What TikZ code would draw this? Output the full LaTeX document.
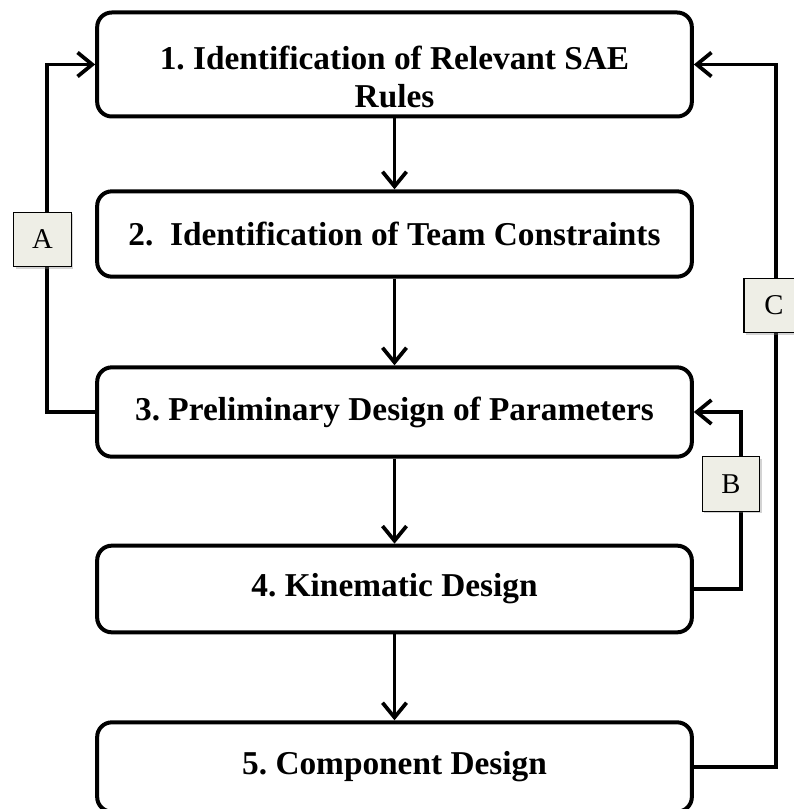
\documentclass[tikz,border=0pt]{standalone}
\usepackage{fontspec}
\setmainfont{Liberation Serif}
\frenchspacing
\usetikzlibrary{arrows.meta,shadows}
\definecolor{tagfill}{RGB}{238,238,230}
\begin{document}
\begin{tikzpicture}[x=0.75pt, y=-0.75pt,
        stepbox/.style={draw, line width=3pt, rounded corners=11pt, minimum width=446pt,
            align=center, font=\bfseries\fontsize{25}{28}\selectfont},
        flow/.style={line width=2.8pt, -{Straight Barb[length=11pt, width=18pt, line width=2.8pt]}},
        tag/.style={draw, line width=0.8pt, fill=tagfill, minimum width=43pt, minimum height=41pt,
            font=\fontsize{21.5}{24}\selectfont,
            drop shadow={shadow xshift=1.5pt, shadow yshift=-1.5pt, opacity=0.35}}]
    \useasboundingbox (0, 0) rectangle (793, 809);
    % steps
    \node[stepbox, minimum height=78pt, inner ysep=2pt, text height=68pt, text depth=4pt] (rules)
        at (394.5, 64.5) {1. Identification of Relevant SAE\\Rules};
    \node[stepbox, minimum height=64pt] (team) at (394.5, 234) {2.\ \ Identification of Team Constraints};
    \node[stepbox, minimum height=67pt] (prelim) at (394.5, 412) {3. Preliminary Design of Parameters};
    \node[stepbox, minimum height=65pt] (kine) at (394.5, 589) {4. Kinematic Design};
    \node[stepbox, minimum height=67pt] (comp) at (394.5, 767) {5. Component Design};
    % main flow
    \draw[flow] (rules) -- (team);
    \draw[flow] (team) -- (prelim);
    \draw[flow] (prelim) -- (kine);
    \draw[flow] (kine) -- (comp);
    % feedback loops
    \draw[flow] (prelim.west) -- ++(-48, 0) |- (rules.west);
    \draw[flow] (kine.east) -- ++(47, 0) |- (prelim.east);
    \draw[flow] (comp.east) -- ++(82, 0) |- (rules.east);
    \node[tag] (tagA) at (42.5, 239.5) {A};
    \node[tag] (tagB) at (731, 484) {B};
    \node[tag, minimum width=45pt] (tagC) at (774, 305.5) {C};
\end{tikzpicture}
\end{document}
